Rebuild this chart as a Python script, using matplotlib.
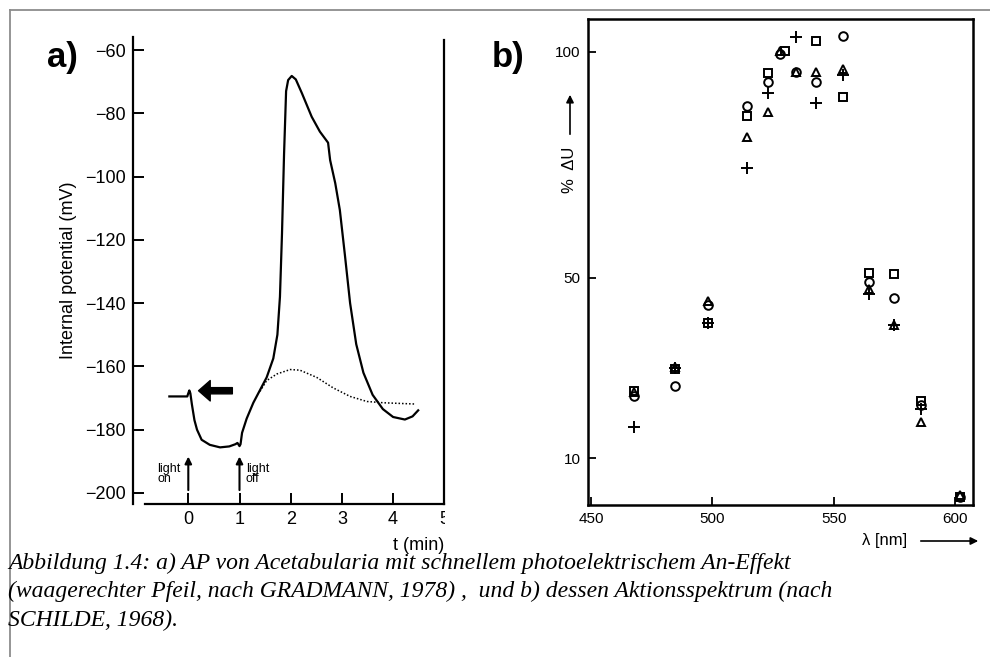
import matplotlib.pyplot as plt
from matplotlib.lines import Line2D
from matplotlib.patches import FancyArrowPatch
from matplotlib.transforms import Bbox, TransformedBbox

# a) action potential of Acetabularia (after GRADMANN 1978)
t_ap = [-0.37, -0.02, 0.0, 0.02, 0.04, 0.07, 0.12, 0.17, 0.26, 0.42, 0.62, 0.80,
        0.92, 0.96, 1.0, 1.02, 1.05, 1.14, 1.27, 1.40, 1.53, 1.66, 1.74, 1.79,
        1.83, 1.87, 1.91, 1.95, 2.02, 2.10, 2.22, 2.41, 2.57, 2.73, 2.77, 2.87,
        2.96, 3.06, 3.16, 3.28, 3.42, 3.60, 3.80, 4.00, 4.23, 4.38, 4.49]
u_ap = [-169.5, -169.5, -168.5, -167.6, -168.5, -172, -177, -180, -183.2, -184.8,
        -185.6, -185.3, -184.6, -184.2, -185.2, -184.6, -181, -176.5, -171.5,
        -167.5, -163.5, -157.5, -150, -138, -118, -93, -73, -69.5, -68.2, -69.3,
        -73.7, -81.1, -85.8, -89.3, -94.8, -102.1, -110.6, -125, -140, -153, -162,
        -169, -173.5, -176, -176.8, -175.8, -173.9]
t_sub = [1.40, 1.53, 1.73, 1.99, 2.18, 2.51, 2.83, 3.16, 3.49, 3.81, 4.43]
u_sub = [-167.9, -164.5, -162.4, -161.0, -161.2, -163.5, -166.8, -169.5, -171.1,
         -171.5, -171.9]
a_yticks = [-60, -80, -100, -120, -140, -160, -180, -200]
a_xticks = [0, 1, 2, 3, 4, 5]

# b) action spectrum (after SCHILDE 1968), four series
wl_o = [467.7, 484.6, 498.1, 514.1, 523.1, 527.9, 534.4, 542.8, 553.8, 564.7, 575.0, 586.1, 602.0]
du_o = [23.7, 25.9, 43.9, 88.0, 93.4, 99.6, 95.5, 93.4, 103.5, 49.1, 45.4, 21.8, 1.5]
wl_s = [467.7, 484.6, 498.1, 514.1, 523.1, 530.0, 542.8, 553.8, 564.7, 575.0, 586.1, 602.0]
du_s = [25.0, 29.8, 40.0, 85.7, 95.4, 100.1, 102.3, 90.1, 51.0, 50.7, 22.6, 1.5]
wl_t = [467.7, 484.6, 498.1, 514.1, 523.1, 527.9, 534.4, 542.8, 553.8, 564.7, 575.0, 586.1, 602.0]
du_t = [24.6, 30.3, 44.9, 81.2, 86.6, 100.3, 95.5, 95.5, 96.2, 47.5, 39.5, 18.0, 1.8]
wl_p = [467.7, 484.6, 498.1, 514.1, 523.1, 534.4, 542.8, 553.8, 564.7, 575.0, 586.1]
du_p = [17.0, 30.0, 40.0, 74.2, 91.0, 103.3, 88.7, 94.8, 46.3, 39.5, 20.9]
b_yticks = [10, 50, 100]
b_xticks = [450, 500, 550, 600]

caption = [
    "Abbildung 1.4: a) AP von Acetabularia mit schnellem photoelektrischem An-Effekt",
    "(waagerechter Pfeil, nach GRADMANN, 1978) ,  und b) dessen Aktionsspektrum (nach",
    "SCHILDE, 1968).",
]

plt.rcParams['font.family'] = ['Liberation Sans', 'DejaVu Sans']
W, H = 990, 657
fig = plt.figure(figsize=(W / 100, H / 100), dpi=100)


def fx(px):
    return px / W


def fy(py):
    return 1 - py / H


# ---- panel a
ax1 = fig.add_axes([fx(132.7), fy(504), fx(444.3 - 132.7), (504 - 37.2) / H])
ax1.plot(t_ap, u_ap, color='black', lw=1.6, solid_joinstyle='round')
ax1.plot(t_sub, u_sub, color='black', lw=1.1, linestyle=(0, (1, 1.3)))
ax1.set_xlim(-1.086, 5.0)
ax1.set_ylim(-203.5, -55.95)
ax1.spines['top'].set_visible(False)
for s in ['left', 'bottom', 'right']:
    ax1.spines[s].set_linewidth(1.6)
ax1.spines['bottom'].set_bounds(-0.85, 5.0)
ax1.spines['right'].set_bounds(-203.5, -56.8)
ax1.set_yticks(a_yticks)
ax1.set_xticks(a_xticks)
ax1.tick_params(direction='in', length=8, width=1.4, labelsize=13, pad=5)
ax1.tick_params(axis='y', right=False)
ax1.set_ylabel('Internal potential (mV)', fontsize=13, labelpad=6)
clip = TransformedBbox(Bbox([[0, 0], [fx(445), 1]]), fig.transFigure)
lab5 = ax1.xaxis.get_major_ticks()[-1].label1
lab5.set_clip_on(True)
lab5.set_clip_box(clip)
ax1.xaxis.get_major_ticks()[-1].tick1line.set_visible(False)

# fast photoelectric on-effect (thick arrow)
ax1.annotate('', xy=(0.2, -167.7), xytext=(0.86, -167.7),
             arrowprops=dict(arrowstyle='simple,head_length=0.6,head_width=1.05,tail_width=0.32',
                             color='black', mutation_scale=14, shrinkA=0, shrinkB=0))
for tx in [0, 1]:
    ax1.annotate('', xy=(tx, -188.5), xytext=(tx, -199.1),
                 arrowprops=dict(arrowstyle='-|>', lw=1.5, color='black',
                                 mutation_scale=10, shrinkA=0, shrinkB=0))
ax1.text(-0.6, -194, 'light\non', ha='left', va='center', fontsize=9,
         linespacing=0.85, multialignment='left')
ax1.text(1.12, -194, 'light\noff', ha='left', va='center', fontsize=9,
         linespacing=0.85, multialignment='left')
tm = fig.text(fx(393), fy(545), 't (min)', ha='left', va='center', fontsize=13)
tm.set_clip_on(True)
tm.set_clip_box(clip)
fig.text(fx(47), fy(57), 'a)', fontsize=25, fontweight='bold', ha='left', va='center')

# ---- panel b
ax2 = fig.add_axes([fx(587.5), fy(505), fx(973 - 587.5), (505 - 18.9) / H])
mk = dict(linestyle='none', color='black', mfc='none', mew=1.4, clip_on=False)
ax2.plot(wl_o, du_o, marker='o', ms=6.2, **mk)
ax2.plot(wl_s, du_s, marker='s', ms=5.8, **mk)
ax2.plot(wl_t, du_t, marker='^', ms=6.2, **mk)
ax2.plot(wl_p, du_p, marker='+', ms=8.5, **mk)
ax2.set_xlim(448.6, 607.4)
ax2.set_ylim(-0.35, 107.3)
for s in ax2.spines.values():
    s.set_linewidth(1.8)
ax2.set_yticks(b_yticks)
ax2.set_xticks(b_xticks)
ax2.tick_params(direction='in', length=6, width=1.3, labelsize=11)
ax2.tick_params(axis='y', pad=5)
ax2.tick_params(axis='x', pad=5)
fig.text(fx(570), fy(170), '%  ΔU', rotation=90, ha='center', va='center', fontsize=12)
fig.add_artist(FancyArrowPatch((fx(570), fy(137)), (fx(570), fy(92)),
                               transform=fig.transFigure, arrowstyle='-|>',
                               mutation_scale=11, lw=1.2, color='black'))
fig.text(fx(862), fy(541), 'λ [nm]', ha='left', va='center', fontsize=12)
fig.add_artist(FancyArrowPatch((fx(918), fy(541)), (fx(981), fy(541)),
                               transform=fig.transFigure, arrowstyle='-|>',
                               mutation_scale=11, lw=1.2, color='black'))
fig.text(fx(492), fy(58), 'b)', fontsize=25, fontweight='bold', ha='left', va='center')

# ---- frame and caption
fig.add_artist(Line2D([fx(10), fx(10)], [0, fy(10)], color='#8c8c8c', lw=1.3))
fig.add_artist(Line2D([fx(10), 1], [fy(10), fy(10)], color='#8c8c8c', lw=1.3))
for i, line in enumerate(caption):
    fig.text(fx(8), fy(563 + 28.5 * i), line, ha='left', va='center', fontsize=17,
             family=['Liberation Serif', 'DejaVu Serif'], style='italic')

fig.savefig('out.png', dpi=100)
